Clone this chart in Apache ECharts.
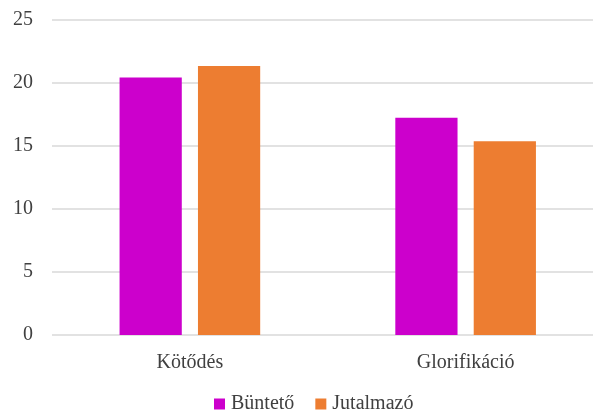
<!DOCTYPE html>
<html><head><meta charset="utf-8">
<script src="https://cdn.jsdelivr.net/npm/echarts@6/dist/echarts.min.js"></script>
<style>html,body{margin:0;padding:0;background:#fff}#c{width:593px;height:414px}</style>
</head><body><div id="c"></div>
<script>
const categories = ["Kötődés", "Glorifikáció"];
const seriesNames = ["Büntető", "Jutalmazó"];
const buntetoValues = [20.4, 17.2];
const jutalmazoValues = [21.3, 15.35];
const yTicks = [0, 5, 10, 15, 20, 25];

const font = "'Liberation Serif', 'DejaVu Serif', serif";
const chart = echarts.init(document.getElementById('c'), null, {renderer: 'canvas'});
chart.setOption({
  animation: false,
  textStyle: {fontFamily: font},
  grid: {left: 52, right: -10.5, top: 19.3, bottom: 414 - 335, containLabel: false, outerBoundsMode: 'none'},
  legend: {
    data: seriesNames, top: 389, left: 209, itemWidth: 11, itemHeight: 11, itemGap: 21,
    icon: 'rect',
    textStyle: {fontFamily: font, fontSize: 20, color: '#404040', padding: [0,0,0,1]}
  },
  xAxis: {
    type: 'category', data: categories,
    axisLine: {show: false}, axisTick: {show: false},
    axisLabel: {fontFamily: font, fontSize: 20, color: '#404040', margin: 18}
  },
  yAxis: {
    type: 'value', min: yTicks[0], max: yTicks[yTicks.length - 1], interval: 5,
    axisLine: {show: false}, axisTick: {show: false},
    axisLabel: {fontFamily: font, fontSize: 20, color: '#404040', margin: 19},
    splitLine: {lineStyle: {color: '#d9d9d9', width: 1.5}}
  },
  series: [
    {name: seriesNames[0], type: 'bar', data: buntetoValues, itemStyle: {color: '#CC00CC'},
     barGap: '26%', barCategoryGap: '49%'},
    {name: seriesNames[1], type: 'bar', data: jutalmazoValues, itemStyle: {color: '#ED7D31'}}
  ]
});
</script></body></html>
